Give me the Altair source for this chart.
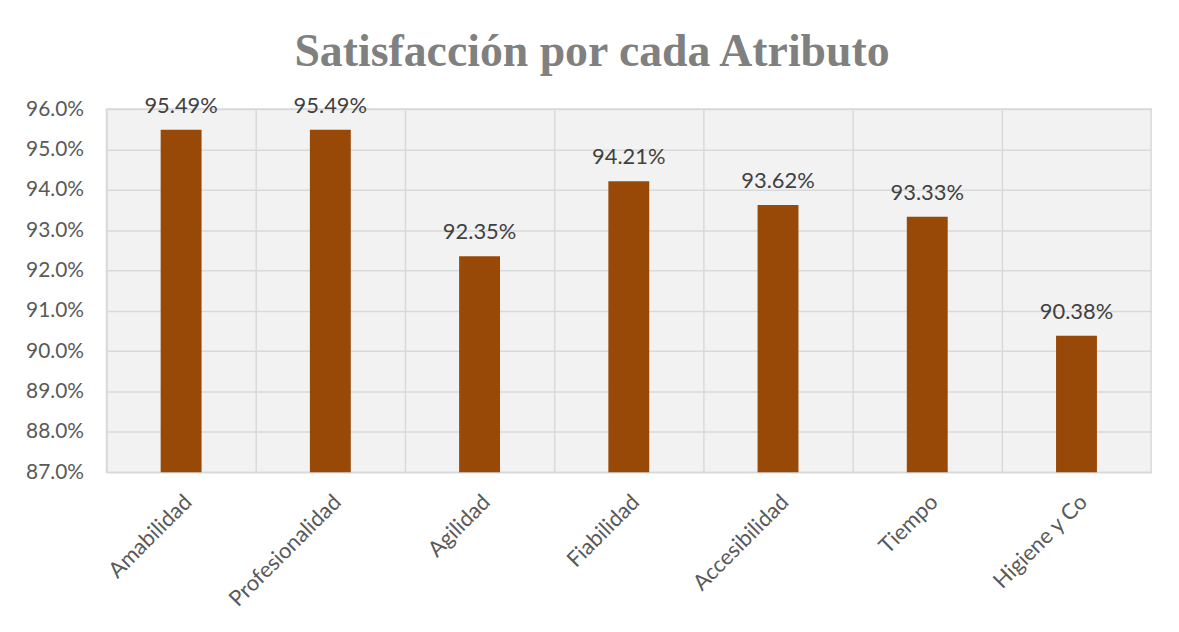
import altair as alt
import pandas as pd

categories = ["Amabilidad", "Profesionalidad", "Agilidad", "Fiabilidad",
              "Accesibilidad", "Tiempo", "Higiene y Co"]
values = [0.9549, 0.9549, 0.9235, 0.9421, 0.9362, 0.9333, 0.9038]
y_ticks = [0.87, 0.88, 0.89, 0.90, 0.91, 0.92, 0.93, 0.94, 0.95, 0.96]

df = pd.DataFrame({"cat": categories, "val": values})

base = alt.Chart(df).encode(
    x=alt.X(
        "cat:N",
        sort=categories,
        scale=alt.Scale(paddingInner=0, paddingOuter=0),
        axis=alt.Axis(
            title=None, labelAngle=-45, grid=True, bandPosition=0,
            gridColor="#d9d9d9", gridWidth=1.5, ticks=False, tickSize=0,
            domain=False, labelFont="Lato", labelFontSize=22,
            labelColor="#595959", labelPadding=19,
        ),
    ),
    y=alt.Y(
        "val:Q",
        scale=alt.Scale(domain=[0.87, 0.96], zero=False, nice=False),
        axis=alt.Axis(
            title=None, format=".1%", values=y_ticks, grid=True,
            gridColor="#d9d9d9", gridWidth=1.5, ticks=False, tickSize=0,
            domain=False, labelFont="Lato", labelFontSize=21,
            labelColor="#595959", labelPadding=23,
        ),
    ),
)

bars = base.mark_bar(color="#984807", width=alt.RelativeBandSize(0.274), clip=True)
labels = base.mark_text(
    baseline="alphabetic", dy=-17, font="Lato", fontSize=22, color="#404040"
).encode(text=alt.Text("val:Q", format=".2%"))

chart = (
    (bars + labels)
    .properties(
        width=1050,
        height=365,
        view=alt.ViewBackground(fill="#f2f2f2", stroke="#d9d9d9", strokeWidth=1.5),
        title=alt.TitleParams(
            "Satisfacción por cada Atributo",
            font="Liberation Serif", fontSize=46, fontWeight="bold",
            color="#808080", anchor="middle", dx=-37, dy=45, offset=28,
            baseline="alphabetic",
        ),
        padding={"left": 99, "top": 100, "right": 20, "bottom": 150},
        autosize=alt.AutoSizeParams(type="none"),
    )
    .configure(background="white")
)

chart.save("out.html", embed_options={"renderer": "svg", "actions": False})
